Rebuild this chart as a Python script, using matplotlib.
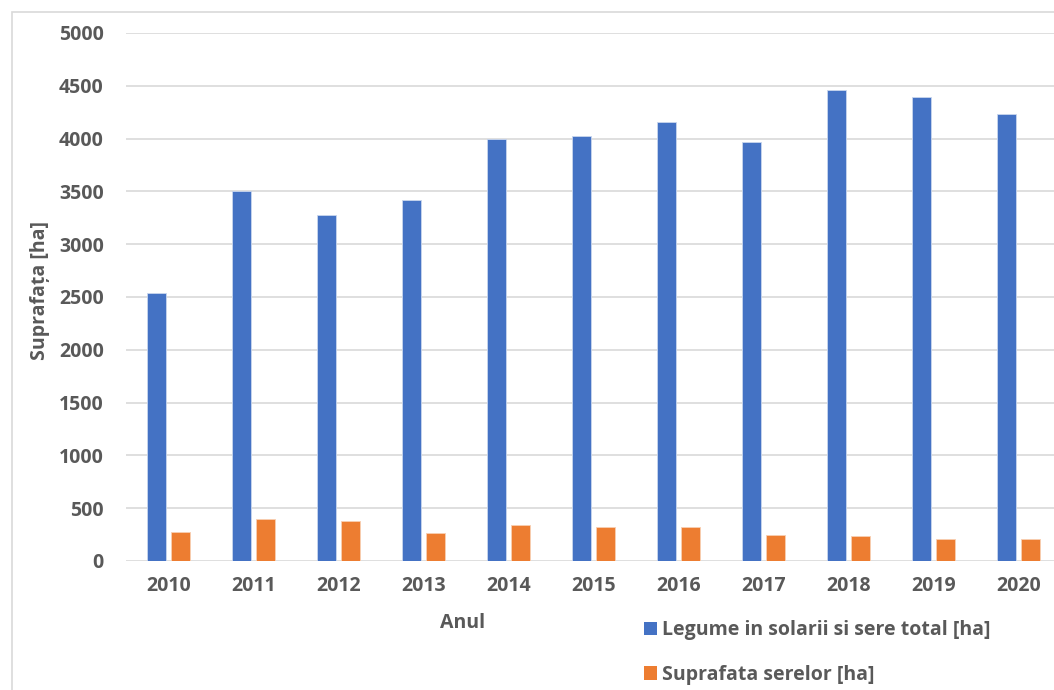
import matplotlib
matplotlib.use("Agg")
import matplotlib.pyplot as plt
from matplotlib.patches import Patch, Rectangle
import numpy as np

years = ["2010", "2011", "2012", "2013", "2014", "2015", "2016", "2017", "2018", "2019", "2020"]
legume_total = [2542, 3503, 3275, 3423, 4000, 4025, 4158, 3969, 4459, 4396, 4234]
suprafata_sere = [275, 394, 379, 265, 337, 325, 318, 249, 233, 208, 211]
yticks = [0, 500, 1000, 1500, 2000, 2500, 3000, 3500, 4000, 4500, 5000]

series_names = ["Legume in solarii si sere total [ha]", "Suprafata serelor [ha]"]
colors = ["#4472C4", "#ED7D31"]
text_color = "#595959"
grid_color = "#D9D9D9"

plt.rcParams['font.family'] = ['Open Sans', 'DejaVu Sans']
FS = 14

W, H = 1054, 690
fig = plt.figure(figsize=(W / 100, H / 100), dpi=100)

# axes in pixel coordinates
left, right, top, bottom = 126, 1061, 33, 561
ax = fig.add_axes([left / W, 1 - bottom / H, (right - left) / W, (bottom - top) / H])

x = np.arange(len(years))
bw = 0.225
off = 0.143
ax.bar(x - off, legume_total, width=bw, color=colors[0], zorder=3,
       edgecolor="#C9D6EE", linewidth=0.6)
ax.bar(x + off, suprafata_sere, width=bw, color=colors[1], zorder=3,
       edgecolor="#F8CFB3", linewidth=0.6)

ax.set_xlim(-0.5, len(years) - 0.5)
ax.set_ylim(0, 5000)
ax.set_yticks(yticks)
ax.set_yticklabels([str(v) for v in yticks])
ax.set_xticks(x)
ax.set_xticklabels(years)

for lbl in ax.get_xticklabels() + ax.get_yticklabels():
    lbl.set_fontweight("bold")
    lbl.set_color(text_color)
    lbl.set_fontsize(FS)

ax.tick_params(axis="both", length=0)
ax.tick_params(axis="y", pad=16)
ax.tick_params(axis="x", pad=11)

ax.grid(axis="y", color=grid_color, linewidth=1.2, zorder=0)
for s in ax.spines.values():
    s.set_visible(False)

fig.text(40 / W, 1 - 290 / H, "Suprafața [ha]", rotation=90, ha="center", va="center",
         fontsize=FS, fontweight="bold", color=text_color)
fig.text(463 / W, 1 - 623 / H, "Anul", ha="center", va="center",
         fontsize=FS, fontweight="bold", color=text_color)

handles = [Patch(facecolor=colors[0]), Patch(facecolor=colors[1])]
leg = fig.legend(handles, series_names, loc="upper left",
                 bbox_to_anchor=(626 / W, 1 - 603 / H), frameon=False,
                 handlelength=0.67, handleheight=0.67, handletextpad=0.3,
                 labelspacing=1.25, prop={"size": FS, "weight": "bold"})
for t in leg.get_texts():
    t.set_color(text_color)

# outer chart frame
fig.patches.append(Rectangle((12 / W, -0.1), 1.2, 1 - 12 / H + 0.1,
                             transform=fig.transFigure, fill=False,
                             edgecolor="#D9D9D9", linewidth=1.2))

fig.savefig("out.png", dpi=100)
